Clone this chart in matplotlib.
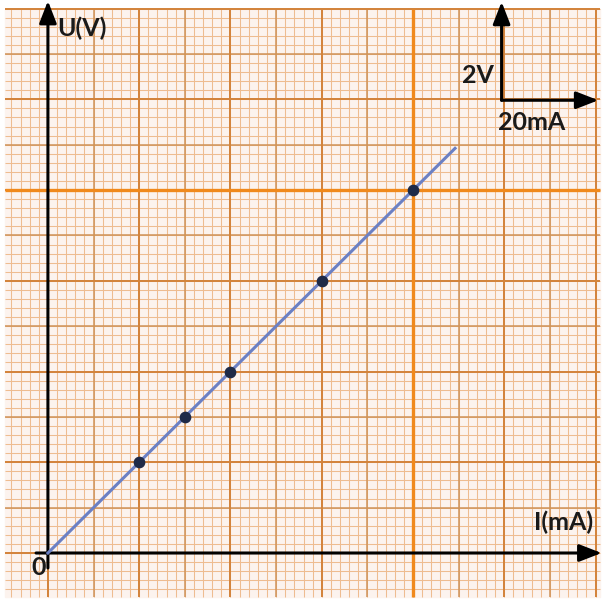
import matplotlib
matplotlib.use("Agg")
import matplotlib.pyplot as plt
import numpy as np

# Data
current_mA = [20, 30, 40, 60, 80]
voltage_V = [2, 3, 4, 6, 8]
fit_I = [0, 89.2]
fit_U = [0, 8.92]

x_label = "I(mA)"
y_label = "U(V)"
scale_v = "2V"
scale_i = "20mA"

fig = plt.figure(figsize=(6.02, 6.02), dpi=100)
ax = fig.add_axes([0, 0, 1, 1])
xmin, xmax = -10.5, 121.4
ymin, ymax = -1.08, 12.19
ax.set_xlim(xmin, xmax)
ax.set_ylim(ymin, ymax)
ax.axis("off")
fig.patch.set_facecolor("white")

# paper region
px0, px1 = -9.4, 121.0
py0, py1 = -0.97, 12.0
ax.add_patch(plt.Rectangle((px0, py0), px1 - px0, py1 - py0, color="#fcf3ee", zorder=0))

# grid
def vgrid(step, color, lw, z):
    start = np.ceil(px0 / step) * step
    for x in np.arange(start, px1 + 1e-9, step):
        ax.plot([x, x], [py0, py1], color=color, lw=lw, zorder=z, solid_capstyle="butt")

def hgrid(step, color, lw, z):
    start = np.ceil(py0 / step) * step
    for y in np.arange(start, py1 + 1e-9, step):
        ax.plot([px0, px1], [y, y], color=color, lw=lw, zorder=z, solid_capstyle="butt")

vgrid(2, "#eebc90", 0.75, 1)
hgrid(0.2, "#eebc90", 0.75, 1)
vgrid(10, "#cf9359", 1.1, 2)
hgrid(1, "#cf9359", 1.1, 2)
vgrid(20, "#d3843c", 1.4, 3)
hgrid(2, "#d3843c", 1.4, 3)
ax.plot([80, 80], [py0, py1], color="#f0891c", lw=2.4, zorder=3, solid_capstyle="butt")
ax.plot([px0, px1], [8, 8], color="#f0891c", lw=2.4, zorder=3, solid_capstyle="butt")

# axes arrows
arrow = dict(arrowstyle="-|>,head_length=0.9,head_width=0.35", lw=2.2, color="black",
             shrinkA=0, shrinkB=0, mutation_scale=15)
ax.annotate("", xy=(0, 12.17), xytext=(0, -0.33), arrowprops=arrow, zorder=6)
ax.annotate("", xy=(121.3, 0), xytext=(-2.6, 0), arrowprops=arrow, zorder=6)

# scale indicator
ax.annotate("", xy=(99.4, 12.15), xytext=(99.4, 9.98), arrowprops=arrow, zorder=6)
ax.annotate("", xy=(120.6, 9.98), xytext=(99.4, 9.98), arrowprops=arrow, zorder=6)

# fit line and points
ax.plot(fit_I, fit_U, color="#6b80c4", lw=2.2, zorder=7)
ax.scatter(current_mA, voltage_V, s=55, color="#1e2a48", zorder=8)

font = dict(family=["Lato", "DejaVu Sans"], fontweight="bold", fontsize=18, color="#1a1a1a", zorder=9)
ax.text(7.5, 11.57, y_label, ha="center", va="center", **font)
ax.text(112.9, 0.68, x_label, ha="center", va="center", **font)
ax.text(-2.0, -0.33, "0", ha="center", va="center", **font)
ax.text(94.2, 10.53, scale_v, ha="center", va="center", **font)
ax.text(105.9, 9.48, scale_i, ha="center", va="center", **font)

fig.savefig("out.png", dpi=100)
